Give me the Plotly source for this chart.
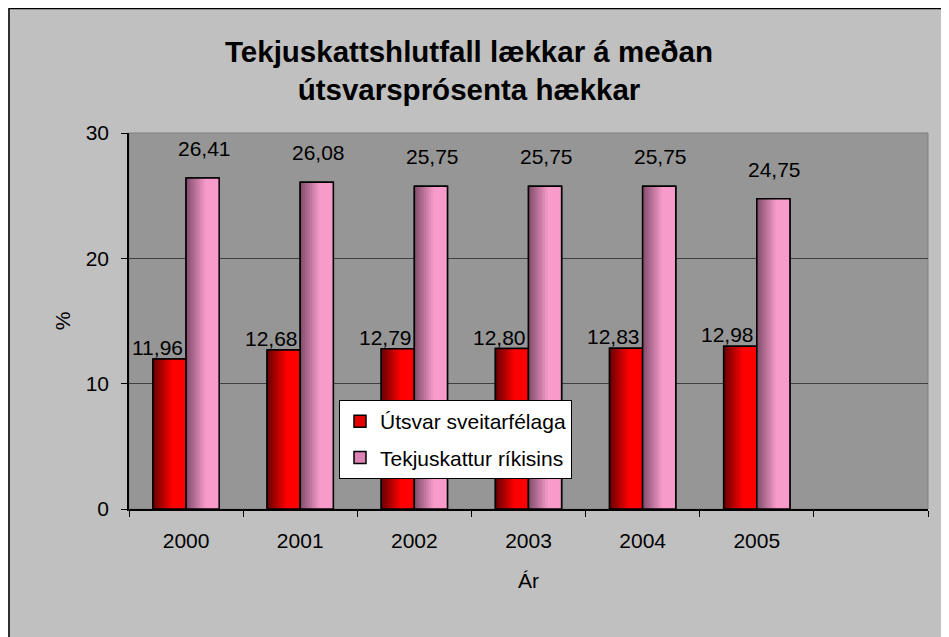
import plotly.graph_objects as go

years = ["2000", "2001", "2002", "2003", "2004", "2005"]
extra_category = [" "]
utsvar = [11.96, 12.68, 12.79, 12.80, 12.83, 12.98]
tekjuskattur = [26.41, 26.08, 25.75, 25.75, 25.75, 24.75]
series_names = ["Útsvar sveitarfélaga", "Tekjuskattur ríkisins"]
y_ticks = [0, 10, 20, 30]

FONT = "Arial, Liberation Sans, sans-serif"
BAR_W = 0.29
N_STRIPS = 14


def lerp(c1, c2, t):
    return "rgb(%d,%d,%d)" % tuple(round(a + (b - a) * t) for a, b in zip(c1, c2))


def fmt(v):
    return ("%.2f" % v).replace(".", ",")


fig = go.Figure()

series = [
    (series_names[0], utsvar, -BAR_W, (112, 0, 0), (255, 0, 0), "rgb(230,0,0)"),
    (series_names[1], tekjuskattur, 0.0, (135, 80, 112), (247, 155, 203), "rgb(220,130,180)"),
]

for gi, (name, vals, off, dark, bright, mid) in enumerate(series):
    fig.add_trace(go.Bar(
        x=years, y=vals, name=name, offset=off, width=BAR_W,
        marker=dict(color=mid, line=dict(color="black", width=1.5)),
        legendgroup=name, showlegend=True, hoverinfo="skip"))
    for i in range(N_STRIPS):
        t = i / (N_STRIPS - 1)
        col = lerp(dark, bright, min(t / 0.6, 1.0))
        start = BAR_W * i / N_STRIPS
        fig.add_trace(go.Bar(
            x=years, y=vals, offset=off + start, width=BAR_W - start,
            marker=dict(color=col, line=dict(width=0)),
            legendgroup=name, showlegend=False, hoverinfo="skip"))
    fig.add_trace(go.Bar(
        x=years, y=vals, offset=off, width=BAR_W,
        marker=dict(color="rgba(0,0,0,0)", line=dict(color="black", width=1.5)),
        legendgroup=name, showlegend=False, hoverinfo="skip"))

annotations = []
for i, v in enumerate(utsvar):
    annotations.append(dict(x=i, y=v, xref="x", yref="y", text=fmt(v), showarrow=False,
                            xanchor="center", yanchor="bottom", xshift=-29, yshift=-2,
                            font=dict(family=FONT, size=21, color="black")))
for i, v in enumerate(tekjuskattur):
    annotations.append(dict(x=i, y=v, xref="x", yref="y", text=fmt(v), showarrow=False,
                            xanchor="center", yanchor="bottom", xshift=18, yshift=16,
                            font=dict(family=FONT, size=21, color="black")))

fig.update_layout(
    width=941, height=629,
    margin=dict(l=121, r=21, t=125, b=128),
    paper_bgcolor="#C0C0C0", plot_bgcolor="#969696",
    barmode="overlay",
    font=dict(family=FONT, size=21, color="black"),
    title=dict(text="Tekjuskattshlutfall lækkar á meðan<br>útsvarsprósenta hækkar",
               x=461 / 941, xanchor="center", y=1 - 54 / 629, yanchor="top", yref="container",
               font=dict(family=FONT, size=29.5, color="black", weight="bold")),
    showlegend=True,
    legend=dict(x=(339 - 129) / 799, y=(509 - 400) / 376, xanchor="left", yanchor="top",
                bgcolor="white", bordercolor="black", borderwidth=1,
                traceorder="grouped", tracegroupgap=6, itemwidth=30,
                font=dict(family=FONT, size=21, color="black")),
    annotations=annotations,
    shapes=[
        dict(type="rect", xref="paper", yref="paper", x0=0, x1=1, y0=0, y1=1,
             line=dict(color="#808080", width=1), layer="below"),
        dict(type="rect", xref="paper", yref="paper",
             x0=-120 / 799, x1=1.2, y0=-0.6, y1=(501 - 0.5) / 376,
             line=dict(color="black", width=1.5), layer="above"),
    ],
)

fig.update_xaxes(
    type="category", categoryorder="array", categoryarray=years + extra_category,
    range=[-0.5, 6.5], tickson="boundaries", ticks="outside", ticklen=6,
    tickcolor="black", showline=True, linecolor="black", linewidth=1.5,
    showgrid=False, zeroline=False, ticklabelstandoff=12,
    tickfont=dict(family=FONT, size=21, color="black"),
    title=dict(text="Ár", standoff=22, font=dict(family=FONT, size=21, color="black")),
)
fig.update_yaxes(
    range=[0, 30], tickvals=y_ticks, ticks="outside", ticklen=6, tickcolor="black",
    showline=True, linecolor="black", linewidth=1.5,
    showgrid=True, gridcolor="#404040", gridwidth=1, zeroline=False,
    ticklabelstandoff=8,
    tickfont=dict(family=FONT, size=21, color="black"),
    title=dict(text="%", standoff=9, font=dict(family=FONT, size=21, color="black")),
)

fig.write_html("out.html")
